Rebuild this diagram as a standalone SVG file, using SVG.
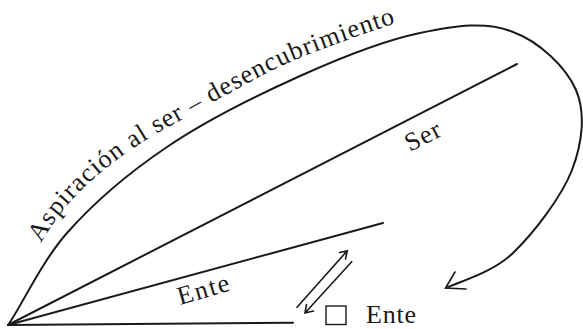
<svg xmlns="http://www.w3.org/2000/svg" width="583" height="329" viewBox="0 0 583 329">
<style>
.ln{fill:none;stroke:#1a1a1a;stroke-width:2;stroke-linecap:round;stroke-linejoin:round}
.ar{fill:none;stroke:#1a1a1a;stroke-width:1.6;stroke-linecap:round;stroke-linejoin:miter}
.t{font-family:"Liberation Serif","Times New Roman",serif;font-size:26px;fill:#1a1a1a}
</style>
<defs>
<path id="tp" d="M-4.5,316 C5,300 30,260 54.2,221.8 C80,185 120,155 157.5,132.9 C200,110 250,80 293,60.5 C340,42 380,28 416.6,16.3 C450,8 490,10 518.8,16"/>
</defs>
<rect width="583" height="329" fill="#ffffff"/>
<g id="connectors">
<path id="ray-bottom" class="ln" d="M8,325 L293,322.7"/>
<path id="ray-ente" class="ln" d="M8,325 L383,223"/>
<path id="ray-ser" class="ln" d="M8,325 L517,64"/>
<path id="curve" class="ln" d="M8,325 C19.5,309.7 40.8,262.7 67,233 C93.2,203.3 128.2,173.2 167,147 C205.8,120.8 257.8,95 300,76 C342.2,57 384.5,40.3 420,33 C455.5,25.7 486.3,20.8 513,32 C539,41.5 566.2,67 576,90 C585.8,113 582.5,142.8 572,170 C561.5,197.2 533.3,233.5 513,253 C492.7,272.5 460.5,281.3 446,288"/>
<path id="curve-head" class="ar" d="M455,272 L445.5,288 L466,289"/>
<path id="arrow-up" class="ar" d="M297,307.3 L347.3,250.7 M339.5,252.5 L347.3,250.7 L345.5,259"/>
<path id="arrow-down" class="ar" d="M351.7,261.7 L305,313 M306.5,304.5 L305,313 L313.5,311"/>
</g>
<g id="label-aspiracion">
<text class="t"><textPath href="#tp" startOffset="86" textLength="425" lengthAdjust="spacing">Aspiración al ser – desencubrimiento</textPath></text>
</g>
<g id="label-ser">
<text class="t" transform="translate(410,152) rotate(-27)" textLength="37" lengthAdjust="spacing">Ser</text>
</g>
<g id="label-ente-ray">
<text class="t" transform="translate(180,305) rotate(-16)" textLength="53" lengthAdjust="spacing">Ente</text>
</g>
<g id="node-ente">
<rect x="326" y="306" width="20" height="18.5" fill="none" stroke="#1a1a1a" stroke-width="1.4"/>
<text class="t" x="366" y="323" textLength="50" lengthAdjust="spacing">Ente</text>
</g>
</svg>
